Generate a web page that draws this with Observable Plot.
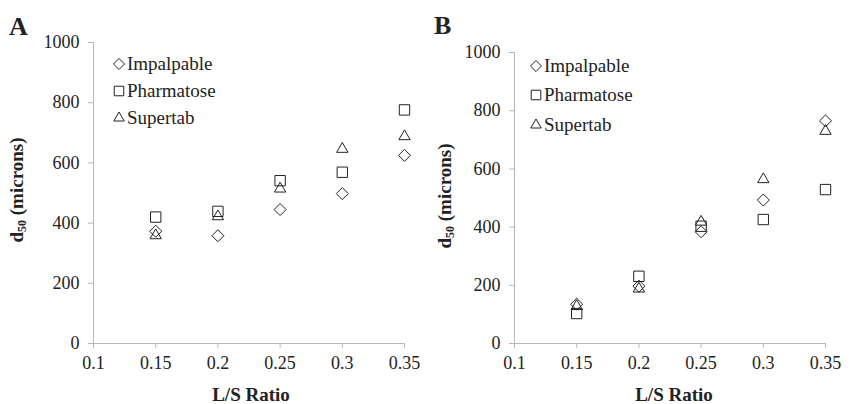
<!DOCTYPE html>
<html>
<head>
<meta charset="utf-8">
<script src="https://cdn.jsdelivr.net/npm/d3@7"></script>
<script src="https://cdn.jsdelivr.net/npm/@observablehq/plot@0.6"></script>
<style>
  html, body { margin: 0; padding: 0; background: #fff; }
  .panel { position: absolute; top: 0; }
  .plabel { position: absolute; font-weight: bold; font-size: 26px; line-height: 1; }
  .ylab { position: absolute; font-weight: bold; font-size: 19px; white-space: nowrap; transform: translate(-50%, -50%) rotate(-90deg); }
  .ylab sub { font-size: 12px; vertical-align: -3px; }
  .xlab { position: absolute; font-weight: bold; font-size: 19px; white-space: nowrap; transform: translate(-50%, -50%); }
  .legend { position: absolute; font-size: 19px; }
  .legend .row { display: flex; align-items: center; height: 27px; }
  .legend svg { margin-right: 2px; overflow: visible; }
</style>
</head>
<body style="font-family:'Liberation Serif', serif">
<div id="wrap" style="position:relative;width:856px;height:404px;overflow:hidden;font-family:'Liberation Serif', serif;color:#222"></div>
<script>
// ---- data ----
const ratios = [0.15, 0.2, 0.25, 0.3, 0.35];
const series = ["Impalpable", "Pharmatose", "Supertab"];

const aImpalpable = [373, 358, 445, 498, 625];
const aPharmatose = [420, 439, 541, 569, 776];
const aSupertab   = [359, 422, 514, 646, 688];

const bImpalpable = [135, 197, 384, 493, 765];
const bPharmatose = [103, 231, 403, 426, 529];
const bSupertab   = [128, 188, 418, 564, 730];

const xTicks = [0.1, 0.15, 0.2, 0.25, 0.3, 0.35];
const xTickLabels = ["0.1", "0.15", "0.2", "0.25", "0.3", "0.35"];
const yTicks = [0, 200, 400, 600, 800, 1000];
const yTickLabels = ["0", "200", "400", "600", "800", "1000"];

const symbols = { Impalpable: "diamond2", Pharmatose: "square2", Supertab: "triangle2" };
const radius = { Impalpable: 5.4, Pharmatose: 6.6, Supertab: 5.4 };
const FONT = "'Liberation Serif', serif";
const AXIS = "#b8b8b8";

function rows(values) { return ratios.map((r, i) => ({ ratio: r, d50: values[i] })); }

function panel(sets, m) {
  const marks = [
    Plot.ruleY([0], { stroke: AXIS }),
    Plot.ruleX([0.1], { stroke: AXIS }),
    Plot.axisX({ ticks: xTicks, tickFormat: d => xTickLabels[xTicks.indexOf(d)], tickSize: 5, tickPadding: 8, stroke: AXIS, label: null, fontFamily: FONT }),
    Plot.axisY({ ticks: yTicks, tickFormat: d => yTickLabels[yTicks.indexOf(d)], tickSize: 5, tickPadding: 9, stroke: AXIS, label: null, fontFamily: FONT })
  ];
  series.forEach((s, k) => {
    marks.push(Plot.dot(rows(sets[k]), { x: "ratio", y: "d50", symbol: () => symbols[s], r: radius[s], stroke: "#222", strokeWidth: 1, fill: "none" }));
  });
  const svg = Plot.plot({
    width: 428, height: 404,
    marginLeft: m.left, marginRight: m.right, marginTop: m.top, marginBottom: m.bottom,
    x: { domain: [0.1, 0.35] },
    y: { domain: [0, 1000] },
    symbol: { type: "identity" },
    style: { fontFamily: FONT, fontSize: "18px", color: "#222", background: "transparent", overflow: "visible" },
    marks
  });
  svg.style.fontFamily = FONT;
  return svg;
}

const wrap = document.getElementById("wrap");

function addPanel(offset, sets, m, letter, letterPos, ylabPos, xlabPos, legendPos, legendRow) {
  const svg = panel(sets, m);
  const holder = document.createElement("div");
  holder.className = "panel";
  holder.style.left = offset + "px";
  holder.appendChild(svg);
  wrap.appendChild(holder);

  const L = document.createElement("div");
  L.className = "plabel"; L.textContent = letter;
  L.style.fontFamily = FONT;
  L.style.left = letterPos[0] + "px"; L.style.top = letterPos[1] + "px";
  wrap.appendChild(L);

  const yl = document.createElement("div");
  yl.className = "ylab"; yl.innerHTML = "d<sub>50</sub> (microns)";
  yl.style.fontFamily = FONT;
  yl.style.left = ylabPos[0] + "px"; yl.style.top = ylabPos[1] + "px";
  wrap.appendChild(yl);

  const xl = document.createElement("div");
  xl.className = "xlab"; xl.textContent = "L/S Ratio";
  xl.style.fontFamily = FONT;
  xl.style.left = xlabPos[0] + "px"; xl.style.top = xlabPos[1] + "px";
  wrap.appendChild(xl);

  const lg = document.createElement("div");
  lg.className = "legend";
  lg.style.fontFamily = FONT;
  lg.style.left = legendPos[0] + "px"; lg.style.top = legendPos[1] + "px";
  const d3sym = { Impalpable: d3.symbolDiamond2, Pharmatose: d3.symbolSquare2, Supertab: d3.symbolTriangle2 };
  series.forEach(s => {
    const row = document.createElement("div");
    row.className = "row"; row.style.height = legendRow + "px";
    const size = Math.PI * (radius[s] * 0.92) ** 2;
    row.innerHTML = `<svg width="12" height="12" viewBox="-6 -6 12 12"><path d="${d3.symbol(d3sym[s], size)()}" fill="none" stroke="#222" stroke-width="1"/></svg><span>${s}</span>`;
    lg.appendChild(row);
  });
  wrap.appendChild(lg);
}

addPanel(0, [aImpalpable, aPharmatose, aSupertab],
  { left: 93, right: 24, top: 42, bottom: 61 },
  "A", [9, 14], [18, 190], [251, 395], [113, 50], 27);

addPanel(428, [bImpalpable, bPharmatose, bSupertab],
  { left: 86, right: 31, top: 52, bottom: 61 },
  "B", [434, 13], [446, 196], [674, 395], [530, 51], 29.5);
</script>
</body>
</html>
